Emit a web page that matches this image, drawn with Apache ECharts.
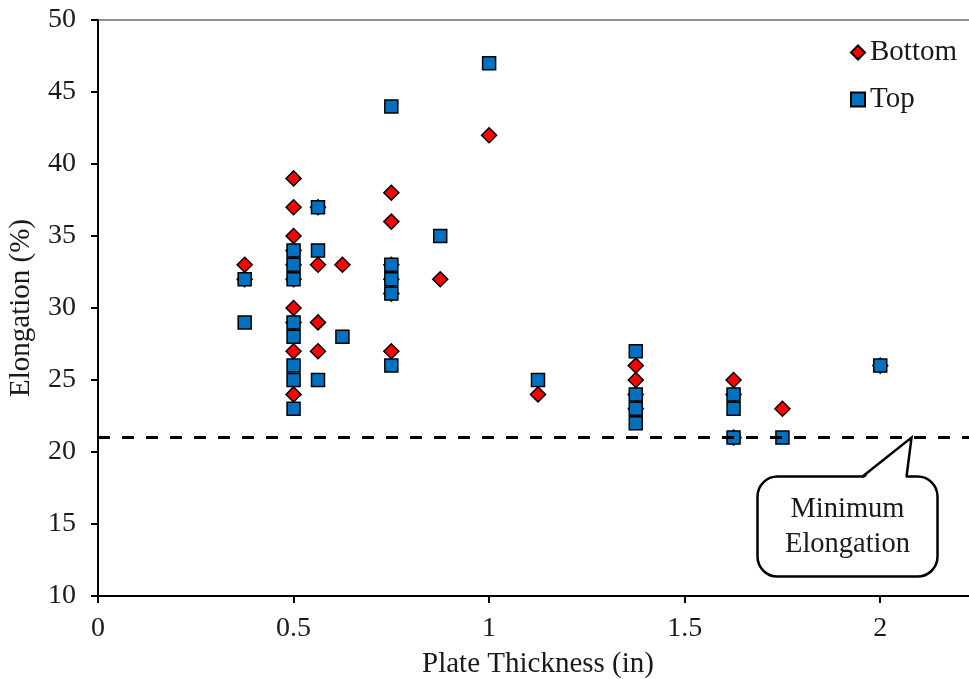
<!DOCTYPE html>
<html>
<head>
<meta charset="utf-8">
<script src="https://cdn.jsdelivr.net/npm/echarts@6/dist/echarts.min.js"></script>
<style>
  html, body { margin: 0; padding: 0; background: #fff; }
  #chart { width: 969px; height: 679px; }
</style>
</head>
<body>
<div id="chart"></div>
<script>
// Elongation vs. plate thickness, bottom and top coupons
const seriesNames = ['Bottom', 'Top'];
const bottomPoints = [
  [0.375, 33], [0.375, 32],
  [0.5, 39], [0.5, 37], [0.5, 35], [0.5, 34], [0.5, 33], [0.5, 32], [0.5, 30], [0.5, 29], [0.5, 27], [0.5, 24],
  [0.5625, 37], [0.5625, 33], [0.5625, 29], [0.5625, 27],
  [0.625, 33],
  [0.75, 38], [0.75, 36], [0.75, 33], [0.75, 32], [0.75, 31], [0.75, 27],
  [0.875, 32],
  [1.0, 42],
  [1.125, 24],
  [1.375, 26], [1.375, 25], [1.375, 24], [1.375, 23],
  [1.625, 25], [1.625, 24], [1.625, 21],
  [1.75, 23],
  [2.0, 26]
];
const topPoints = [
  [0.375, 32], [0.375, 29],
  [0.5, 34], [0.5, 33], [0.5, 32], [0.5, 29], [0.5, 28], [0.5, 26], [0.5, 25], [0.5, 23],
  [0.5625, 37], [0.5625, 34], [0.5625, 25],
  [0.625, 28],
  [0.75, 44], [0.75, 33], [0.75, 32], [0.75, 31], [0.75, 26],
  [0.875, 35],
  [1.0, 47],
  [1.125, 25],
  [1.375, 27], [1.375, 24], [1.375, 23], [1.375, 22],
  [1.625, 24], [1.625, 23], [1.625, 21],
  [1.75, 21],
  [2.0, 26]
];
const minimumElongation = 21;
const calloutText = ['Minimum', 'Elongation'];
const calloutAnchor = [2.08, minimumElongation];

const FONT = "'Liberation Serif', 'Times New Roman', serif";
const TEXT = '#1a1a1a';

const chart = echarts.init(document.getElementById('chart'), null, { renderer: 'canvas' });

const option = {
  animation: false,
  backgroundColor: '#fff',
  textStyle: { fontFamily: FONT, color: TEXT },
  grid: {
    left: 98, top: 20, width: 880, height: 576,
    outerBoundsMode: 'none',
    containLabel: false,
    show: true, borderColor: '#262626', borderWidth: 1, backgroundColor: 'transparent'
  },
  legend: {
    orient: 'vertical',
    left: 845, top: 33,
    itemWidth: 14, itemHeight: 14, itemGap: 18,
    textStyle: { fontFamily: FONT, fontSize: 29, color: TEXT },
    data: seriesNames
  },
  xAxis: {
    type: 'value',
    min: 0, max: 2.25, interval: 0.5,
    name: 'Plate Thickness (in)',
    nameLocation: 'middle', nameGap: 54,
    nameTextStyle: { fontFamily: FONT, fontSize: 29, color: TEXT },
    axisLine: { show: true, lineStyle: { color: '#000', width: 2 } },
    axisTick: { show: true, inside: false, length: 7, lineStyle: { color: '#000', width: 2 } },
    axisLabel: { fontFamily: FONT, fontSize: 28, color: TEXT, margin: 19, showMaxLabel: false },
    splitLine: { show: false }
  },
  yAxis: {
    type: 'value',
    min: 10, max: 50, interval: 5,
    name: 'Elongation (%)',
    nameLocation: 'middle', nameGap: 62,
    nameTextStyle: { fontFamily: FONT, fontSize: 29, color: TEXT },
    axisLine: { show: true, lineStyle: { color: '#000', width: 2 } },
    axisTick: { show: true, inside: false, length: 7, lineStyle: { color: '#000', width: 2 } },
    axisLabel: { fontFamily: FONT, fontSize: 28, color: TEXT, margin: 22 },
    splitLine: { show: false }
  },
  series: [
    {
      name: seriesNames[0],
      type: 'scatter',
      symbol: 'diamond',
      symbolSize: 15,
      itemStyle: { color: '#ff0000', borderColor: '#000', borderWidth: 1.5, opacity: 1 },
      data: bottomPoints,
      z: 2,
      markLine: {
        silent: true,
        symbol: ['none', 'none'],
        label: { show: false },
        lineStyle: { color: '#000', width: 3, type: [12, 12], opacity: 1 },
        data: [{ yAxis: minimumElongation }]
      }
    },
    {
      name: seriesNames[1],
      type: 'scatter',
      symbol: 'rect',
      symbolSize: 13,
      itemStyle: { color: '#0070c0', borderColor: '#000', borderWidth: 1.5, opacity: 1 },
      data: topPoints,
      z: 3
    }
  ]
};

chart.setOption(option);

// Speech-bubble callout pointing at the minimum elongation line
const tip = chart.convertToPixel({ gridIndex: 0 }, calloutAnchor);
const bx = tip[0] - 154, by = tip[1] + 39, bw = 180, bh = 100;
const tailL = tip[0] - 49, tailR = tip[0] - 5;

chart.setOption({
  graphic: [
    {
      type: 'rect',
      shape: { x: bx, y: by, width: bw, height: bh, r: 20 },
      style: { fill: '#fff', stroke: '#000', lineWidth: 2.5 },
      z: 100
    },
    {
      type: 'polygon',
      shape: { points: [[tailL + 1, by + 2], [tip[0], tip[1]], [tailR - 1, by + 2]] },
      style: { fill: '#fff', stroke: null },
      z: 101
    },
    {
      type: 'polyline',
      shape: { points: [[tailL, by], [tip[0], tip[1]], [tailR, by]] },
      style: { fill: null, stroke: '#000', lineWidth: 2.5, lineJoin: 'miter' },
      z: 102
    },
    {
      type: 'text',
      x: bx + bw / 2,
      y: by + bh / 2,
      style: {
        text: calloutText.join('\n'),
        fontFamily: FONT, fontSize: 28.5, fill: TEXT,
        align: 'center', verticalAlign: 'middle', lineHeight: 35
      },
      z: 103
    }
  ]
});
</script>
</body>
</html>
